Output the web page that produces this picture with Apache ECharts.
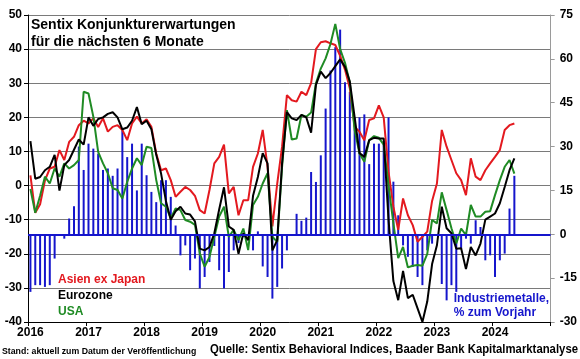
<!DOCTYPE html>
<html>
<head>
<meta charset="utf-8">
<script src="https://cdn.jsdelivr.net/npm/echarts@6/dist/echarts.min.js"></script>
<style>
html,body{margin:0;padding:0;background:#fff;}
#chart{width:580px;height:359px;}
</style>
</head>
<body>
<div id="chart"></div>
<script>
// ---- data ----
const years = ['2016','2017','2018','2019','2020','2021','2022','2023','2024'];
const monthNames = ['01','02','03','04','05','06','07','08','09','10','11','12'];

// Sentix expectations (left axis), monthly Jan 2016 - May 2024
const asia = [3, -8, -5.5, 1.5, 5, 5.5, 10.4, 7.5, 12.8, 14.3, 17.7, 19,
  18.2, 19.7, 17.2, 19.7, 15.8, 17.2, 17.7, 16.3, 13.3, 18.2, 20.2, 18.2,
  19.4, 17.2, 9.4, 4.5, 5, 1.6, -3.3, -1.8, -0.4, -1.3, -3, -7.2,
  -8.2, -1.3, 6.5, 8.4, 12, -2.3, -0.4, -8.7, -4.3, -4.3, 5.5, 9.4,
  16.3, 5.5, -12, 0.6, 11.4, 26.5, 25, 24.6, 27.5, 26.5, 30, 40,
  42, 42.3, 41.7, 41.2, 38, 34, 28.5, 17.2, 15.8, 13.3, 19.2, 19.7,
  23.5, 20, 4, -6.2, -13, -3.8, -8.7, -11.6, -16.5, -15, -13.5, -4.5,
  0.6, 16.3, 11.4, 7.5, 3.6, 1.6, -2.8, 8, 2.6, 1.6, 4.5, 6.5,
  8.4, 10.4, 16.3, 17.7, 18.2];

const eurozone = [13, 2, 2.5, 4.5, 5.5, 9, -1.5, 6, 7.5, 10.5, 13.5, 12,
  20, 17.5, 19.5, 20, 21, 21.5, 20, 16.5, 17, 19, 23, 18,
  19, 16.5, 9, 3.5, -4.5, -10, -7.5, -6.2, -8.2, -8.5, -10.5, -18.5,
  -19, -18, -14, -7, -0.5, -12, -13, -20, -14, -16, -3, 2.5,
  9.5, 6.5, -19, -16, 6.5, 21.5, 19.7, 19.2, 20.7, 20, 15.5, 29.5,
  33.4, 31.5, 33, 35, 37, 34.8, 30.5, 20, 9.5, 8.4, 13.3, 14,
  13.8, 13.8, -10, -28, -33.6, -25, -33, -32, -36, -40, -34, -23,
  -17.5, -6.2, -12.5, -14, -18.5, -18.4, -24.5, -18, -20.5, -17, -10, -9.1,
  -8.2, -5.2, -0.4, 4.5, 8];

const usa = [-1, -8, -3, 2.6, 0.6, 5, 2.6, 6.5, 5, 6, 7.5, 27.5,
  27, 20.2, 9.9, 6.5, 3.6, -0.8, -1.3, -3.8, 1.1, 5, 8, 6,
  11.4, 11, 1.6, -5.2, -6.2, -9.6, -6.7, -7.2, -10.1, -10.6, -11.5, -19.9,
  -23.8, -20.9, -15, -9.1, -6.2, -15, -13, -16, -12.6, -18.9, -5.7, -3.3,
  0.6, 3.6, -15, -16.5, 5.5, 22.1, 13.5, 13.8, 20.7, 20.2, 21.4, 30,
  34.3, 37.3, 41.5, 47.4, 40, 36, 30.2, 16.3, 9.4, 7, 13.3, 14.5,
  14, 12, 0, -11, -21.3, -18, -24, -23.5, -23.3, -23.5, -20, -10.1,
  -11.1, -2, -7.2, -12.5, -17, -12.6, -14.5, -5.7, -9.1, -9.1, -7.7, -7.5,
  -2.8, 1.6, 5.5, 7.5, 3.5];

// Industriemetalle, % zum Vorjahr (right axis)
const metals = [-19.7, -17.4, -17.4, -18, -17.4, -8.3, 0, -1.5, 5.4, 9.6, 30, 22,
  31, 29.3, 27.6, 22, 22.5, 20, 22.5, 35.6, 26.4, 31, 15, 31,
  20.2, 14.5, 11, 18.5, 18.5, 12.8, 3, -7.2, -3.8, -12.3, -8.3, -18.5,
  -14.6, -9.5, -4, -12.3, -18.5, -12.9, -5.5, -3, -1, 0, -5.5, 1,
  -11, -14.6, -22, -18, -11.7, -5.5, 0, 7, 4.6, 5.7, 21.3, 17.9,
  27, 43, 56, 64, 70, 52, 48.7, 40, 40, 41, 24, 31,
  31, 32, 40, 18, 6.5, -3.8, -7.7, -11.2, -14.6, -17.4, -5.5, -3.2,
  0, -17, -22.6, -17.4, -19.7, -4.9, -1.5, -3.2, 4.8, 2.5, -8.9, -7.2,
  -14.6, -8.9, -6.6, 8.8, 20];

const leftTicks = {min: -40, max: 50, interval: 10};
const rightTicks = {min: -30, max: 75, interval: 15};

// categories: monthly Jan 2016 .. Dec 2024
const categories = [];
years.forEach(y => monthNames.forEach(m => categories.push(y + '-' + m)));

const FONT = '"Liberation Sans", Arial, sans-serif';
const RED = '#e3191f', BLACK = '#000000', GREEN = '#1f8b24', BLUE = '#1515cc';

const chart = echarts.init(document.getElementById('chart'), null, {renderer: 'canvas'});
chart.setOption({
  animation: false,
  backgroundColor: '#ffffff',
  title: {
    text: 'Sentix Konjunkturerwartungen\nfür die nächsten 6 Monate',
    left: 31, top: 17, padding: 0,
    textStyle: {fontFamily: FONT, fontWeight: 'bold', fontSize: 14, lineHeight: 17, color: '#000'}
  },
  grid: {left: 28, right: 27, top: 15, bottom: 37, containLabel: false},
  xAxis: {
    type: 'category', data: categories, boundaryGap: true,
    axisLine: {onZero: false, lineStyle: {color: '#000', width: 1}},
    axisTick: {show: true, length: 4, interval: (i) => i % 12 === 0, lineStyle: {color: '#000'}},
    axisLabel: {
      interval: (i) => i % 12 === 0, margin: 5,
      formatter: (v) => v.slice(0, 4),
      fontFamily: FONT, fontWeight: 'bold', fontSize: 12, color: '#000'
    },
    splitLine: {show: false}
  },
  yAxis: [{
    type: 'value', position: 'left', min: leftTicks.min, max: leftTicks.max, interval: leftTicks.interval,
    axisLine: {show: true, lineStyle: {color: '#000'}},
    axisTick: {show: true, length: 4, lineStyle: {color: '#000'}},
    axisLabel: {margin: 6, fontFamily: FONT, fontWeight: 'bold', fontSize: 12, color: '#000'},
    splitLine: {show: true, lineStyle: {color: '#7a7a7a', width: 1}}
  }, {
    type: 'value', position: 'right', min: rightTicks.min, max: rightTicks.max, interval: rightTicks.interval,
    axisLine: {show: true, lineStyle: {color: '#9a9a9a'}},
    axisTick: {show: true, length: 4, lineStyle: {color: '#9a9a9a'}},
    axisLabel: {margin: 9, fontFamily: FONT, fontWeight: 'bold', fontSize: 12, color: '#000'},
    splitLine: {show: false}
  }],
  series: [{
    name: 'Industriemetalle', type: 'bar', yAxisIndex: 1, data: metals,
    barWidth: 2, itemStyle: {color: BLUE}, z: 2,
    markLine: {
      symbol: 'none', silent: true, label: {show: false},
      lineStyle: {color: BLUE, width: 2, type: 'solid'},
      data: [{yAxis: 0}]
    }
  }, {
    name: 'Asien ex Japan', type: 'line', data: asia, showSymbol: false, symbol: 'none',
    lineStyle: {color: RED, width: 2}, itemStyle: {color: RED}, z: 3
  }, {
    name: 'USA', type: 'line', data: usa, showSymbol: false, symbol: 'none',
    lineStyle: {color: GREEN, width: 2}, itemStyle: {color: GREEN}, z: 3
  }, {
    name: 'Eurozone', type: 'line', data: eurozone, showSymbol: false, symbol: 'none',
    lineStyle: {color: BLACK, width: 2}, itemStyle: {color: BLACK}, z: 3
  }],
  graphic: [
    {type: 'text', left: 58, top: 274, z: 10, style: {text: 'Asien ex Japan', fill: RED, font: 'bold 12px ' + FONT}},
    {type: 'text', left: 58, top: 290, z: 10, style: {text: 'Eurozone', fill: BLACK, font: 'bold 12px ' + FONT}},
    {type: 'text', left: 58, top: 306, z: 10, style: {text: 'USA', fill: GREEN, font: 'bold 12px ' + FONT}},
    {type: 'text', right: 31, top: 292, z: 10, style: {text: 'Industriemetalle,\n% zum Vorjahr', fill: BLUE, align: 'right', lineHeight: 14, font: 'bold 12px ' + FONT}},
    {type: 'text', x: 2, y: 351, scaleX: 0.92, z: 10, style: {text: 'Stand: aktuell zum Datum der Veröffentlichung', fill: '#000', align: 'left', verticalAlign: 'middle', font: 'bold 9.5px ' + FONT}},
    {type: 'text', x: 578, y: 350, scaleX: 0.945, z: 10, style: {text: 'Quelle: Sentix Behavioral Indices, Baader Bank Kapitalmarktanalyse', fill: '#000', align: 'right', verticalAlign: 'middle', font: 'bold 12px ' + FONT}}
  ]
});
</script>
</body>
</html>
